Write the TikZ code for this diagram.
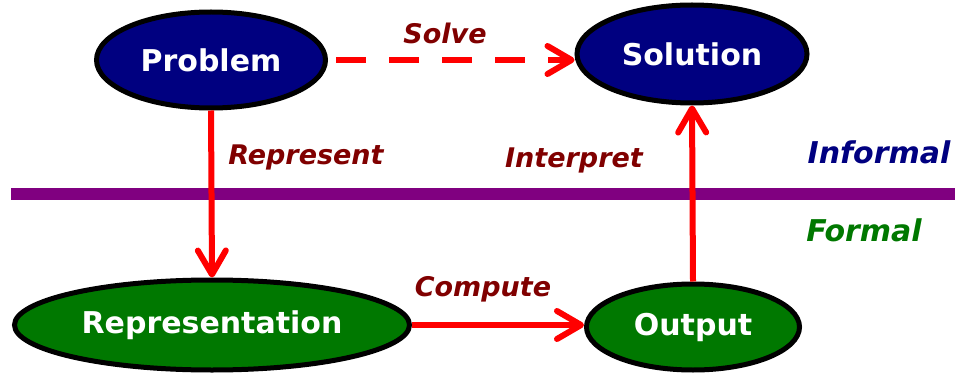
\documentclass[tikz,border=0pt]{standalone}
\usepackage{fontspec}
\setmainfont{DejaVu Sans}
\usetikzlibrary{shapes.geometric,arrows.meta}
\definecolor{navyc}{HTML}{000080}
\definecolor{greenc}{HTML}{007800}
\definecolor{labelc}{HTML}{800000}
\definecolor{purplec}{HTML}{800080}
\definecolor{redc}{HTML}{FF0000}
\tikzset{
  oval/.style={ellipse, draw=black, line width=5pt, inner sep=0pt, text=white,
    font=\fontsize{30}{32}\selectfont\bfseries},
  bluenode/.style={oval, fill=navyc},
  greennode/.style={oval, fill=greenc},
  conn/.style={draw=redc, line width=6pt,
    -{Straight Barb[length=24pt,width=28pt,line cap=round,line join=round]}},
  dashconn/.style={conn, dash pattern=on 30pt off 23pt},
  lbl/.style={text=labelc, font=\fontsize{27}{30}\selectfont\bfseries\itshape},
  side/.style={font=\fontsize{30}{32}\selectfont\bfseries\itshape},
}
\begin{document}
\begin{tikzpicture}[x=1pt,y=-1pt]
\useasboundingbox (0,0) rectangle (957,374);
\node[bluenode, minimum width=229pt, minimum height=96pt] (prob) at (211,60) {Problem};
\node[bluenode, minimum width=230pt, minimum height=98pt] (sol) at (692,54) {Solution};
\node[greennode, minimum width=395pt, minimum height=90pt] (rep) at (212,325) {Representation};
\node[greennode, minimum width=213pt, minimum height=86pt] (out) at (693,327) {Output};
\coordinate (lineL) at (11,193.5);
\coordinate (lineR) at (955,193.5);
\draw[purplec, line width=12pt] (lineL) -- (lineR);
\draw[dashconn] ([xshift=8pt]prob.east) -- (prob.east -| sol.west);
\draw[conn] (prob.south) -- (rep.north);
\draw[conn] (rep.east) -- (rep.east -| out.west);
\draw[conn] (out.north) -- (sol.south);
\node[lbl] (solve) at (445,33) {Solve};
\node[lbl] (represent) at (306,157) {Represent};
\node[lbl] (interpret) at (574,160) {Interpret};
\node[lbl] (compute) at (483,289) {Compute};
\node[side, text=navyc] (informal) at (879,152) {Informal};
\node[side, text=greenc] (formal) at (864,230) {Formal};
\end{tikzpicture}
\end{document}
